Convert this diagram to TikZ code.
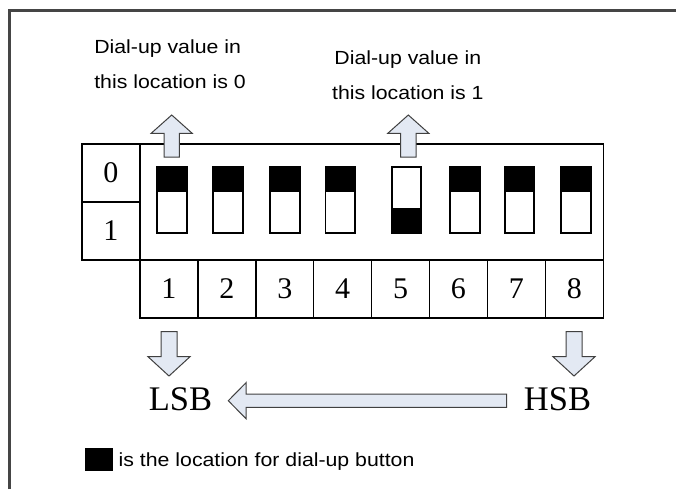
\documentclass[tikz,border=0pt]{standalone}
\usepackage{fontspec}
\setmainfont{Liberation Serif}
\newfontfamily\arialf{Liberation Sans}
\definecolor{arrowfill}{HTML}{E3E9F3}
\definecolor{arrowline}{HTML}{404040}
\definecolor{framecol}{HTML}{454545}
\tikzset{
  frameline/.style={draw=framecol, line width=2.6pt},
  boxline/.style={draw=black, line width=1.4pt},
  cell/.style={boxline, minimum width=57.9pt, minimum height=58pt, inner sep=0pt, font=\fontsize{30}{30}\selectfont},
  swbox/.style={draw=black, line width=1.3pt, minimum width=29pt, minimum height=65pt, inner sep=0pt, fill=white},
  barrow/.style={draw=arrowline, fill=arrowfill, line width=1pt, line join=miter},
  sansnote/.style={font=\arialf\fontsize{19}{35}\selectfont, inner sep=0pt},
  serifbig/.style={font=\fontsize{34.5}{40}\selectfont, inner sep=0pt},
  uparrow/.pic={\draw[barrow] (0,0) -- (20.5,18.3) -- (7.7,18.3) -- (7.7,42) -- (-7.7,42) -- (-7.7,18.3) -- (-20.5,18.3) -- cycle;},
  downarrow/.pic={\draw[barrow] (0,0) -- (21,-19.3) -- (8,-19.3) -- (8,-44.3) -- (-8,-44.3) -- (-8,-19.3) -- (-21,-19.3) -- cycle;}
}
\begin{document}
\begin{tikzpicture}[x=1pt,y=-1pt]
\useasboundingbox (0,0) rectangle (676,489);
% outer frame
\draw[frameline] (9.5,489) -- (9.5,10.5) -- (676,10.5);
% top labels
\node[sansnote, anchor=base] (lab0) at (170,53.3)
  {\scalebox{1.12}[1]{\begin{tabular}[t]{@{}l@{}}Dial-up value in\\ this location is 0\end{tabular}}};
\node[sansnote, anchor=base] (lab1) at (407.8,65)
  {\scalebox{1.12}[1]{\begin{tabular}[t]{@{}c@{}}Dial-up value in\\ this location is 1\end{tabular}}};
% left 0/1 box
\node[cell] (z0) at (110.85,173) {0};
\node[cell] (z1) at (110.85,231) {1};
% main box
\draw[boxline] (140,144) rectangle (603.3,260);
% number cells
\foreach \i in {1,...,8}{
  \node[cell] (c\i) at ({140+57.9*(\i-0.5)},289) {\i};
}
% switches
\foreach \i/\cx in {1/172,2/228.2,3/284.7,4/340.3,6/464.7,7/519.5,8/576.2}{
  \node[swbox] (s\i) at (\cx,200.2) {};
  \fill[black] (s\i.north west) rectangle ([yshift=-25pt]s\i.north east);
  \draw[line width=1.3pt] (s\i.north west) rectangle (s\i.south east);
}
\node[swbox] (s5) at (406.5,200.2) {};
\fill[black] (s5.south west) rectangle ([yshift=25pt]s5.south east);
\draw[line width=1.3pt] (s5.north west) rectangle (s5.south east);
% up arrows
\pic at (171.7,115) {uparrow};
\pic at (408.3,115) {uparrow};
% down arrows
\pic at (169,376) {downarrow};
\pic at (574,376) {downarrow};
% LSB / HSB
\node[serifbig, anchor=base] (lsb) at (180.5,410.7) {LSB};
\node[serifbig, anchor=base] (hsb) at (557.5,410.7) {HSB};
\draw[barrow] (228.3,400.7) -- (246,382.7) -- (246,394) -- (506.7,394) -- (506.7,407.3) -- (246,407.3) -- (246,418.7) -- cycle;
% legend
\node[fill=black, minimum width=27.7pt, minimum height=23.5pt, inner sep=0pt] (legsq) at (99.2,459.5) {};
\node[sansnote, anchor=base west] (legtxt) at (118.5,466.7) {\scalebox{1.12}[1]{is the location for dial-up button}};
\end{tikzpicture}
\end{document}
